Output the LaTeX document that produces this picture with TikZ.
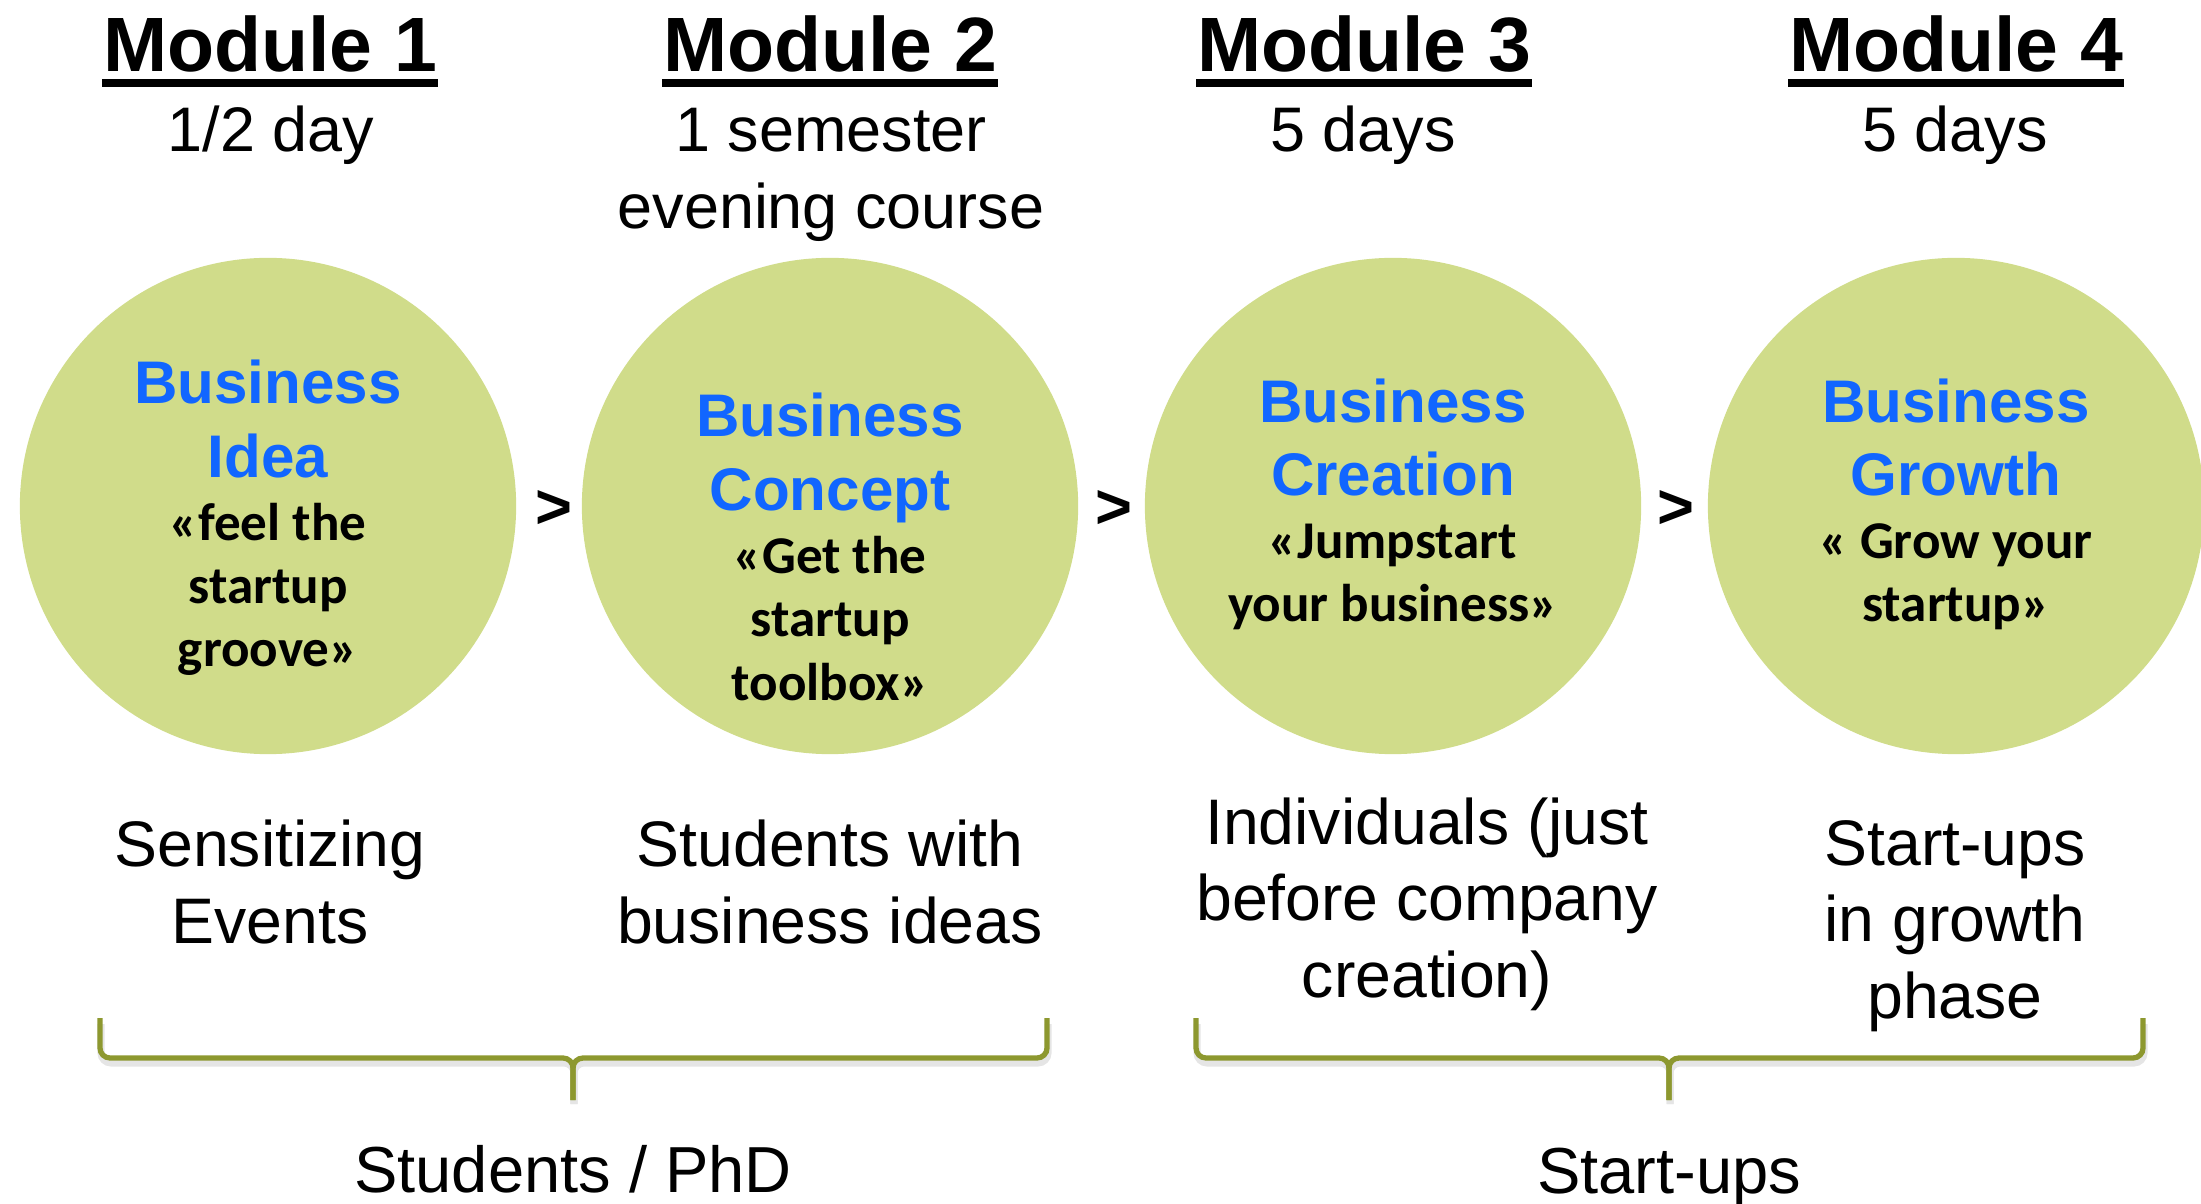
\documentclass[tikz,border=0pt]{standalone}
\usepackage{fontspec}
\setmainfont{Liberation Sans}
\newfontfamily\calibrifont{Carlito}
\definecolor{stagegreen}{RGB}{208,220,138}
\definecolor{stageblue}{RGB}{17,102,255}
\definecolor{braceolive}{RGB}{141,152,47}
\newcommand{\stagename}[1]{{\rmfamily\bfseries\color{stageblue}\fontsize{17.1}{20.8}\selectfont #1}}
\tikzset{
  stage/.style={circle, fill=stagegreen, minimum size=4.96cm},
  stagetext/.style={align=center, anchor=base, font=\calibrifont\bfseries\fontsize{15.1}{18}\selectfont},
  modtitle/.style={anchor=base, font=\bfseries\fontsize{21.9}{26}\selectfont},
  modtime/.style={anchor=base, align=center, font=\fontsize{17.9}{21.9}\selectfont},
  target/.style={anchor=base, align=center, font=\fontsize{18.3}{21.7}\selectfont},
  grouplabel/.style={anchor=base, font=\fontsize{18.5}{22}\selectfont},
  nextsign/.style={font=\bfseries\fontsize{18}{20}\selectfont},
  underbar/.style={line width=2.3pt},
  bracket/.style={draw=braceolive, line width=1.5pt, rounded corners=0.1cm},
  bracketshadow/.style={draw=black!10, line width=2pt, rounded corners=0.1cm},
}
\begin{document}
\begin{tikzpicture}[x=0.01cm, y=0.01cm, every node/.style={inner sep=0pt}]
  \useasboundingbox (0,0) rectangle (2201,-1204);

  % Moduli e durata (base = ultima riga)
  \node[modtitle] (mod1) at (270,-72) {Module 1};
  \node[modtitle] (mod2) at (830,-72) {Module 2};
  \node[modtitle] (mod3) at (1364,-72) {Module 3};
  \node[modtitle] (mod4) at (1956,-72) {Module 4};
  \foreach \m in {1,...,4}
    \draw[underbar] ([yshift=-0.11cm]mod\m.base west) -- ([yshift=-0.11cm]mod\m.base east);
  \node[modtime] (time1) at (271,-152) {1/2 day};
  \node[modtime] (time2) at (831,-229) {1 semester\\evening course};
  \node[modtime] (time3) at (1363,-152) {5 days};
  \node[modtime] (time4) at (1955,-152) {5 days};

  % Cerchi
  \node[stage] (idea) at (268,-506) {};
  \node[stage] (concept) at (830,-506) {};
  \node[stage] (creation) at (1393,-506) {};
  \node[stage] (growth) at (1956,-506) {};
  \node[stagetext] (ideatxt) at (268,-667)
    {\stagename{Business}\\[2.8pt]\stagename{Idea}\\«feel the\\startup\\groove»};
  \node[stagetext] (concepttxt) at (830,-700)
    {\stagename{Business}\\[2.8pt]\stagename{Concept}\\«Get the\\startup\\toolbox»};
  \node[stagetext] (creationtxt) at (1393,-622)
    {\stagename{Business}\\[2.8pt]\stagename{Creation}\\«Jumpstart\\your business»};
  \node[stagetext] (growthtxt) at (1956,-622)
    {\stagename{Business}\\[2.8pt]\stagename{Growth}\\« Grow your\\startup»};
  \foreach \x/\n in {554/a, 1114/b, 1676/c}
    \node[nextsign] (next\n) at (\x,-510) {>};

  % Destinatari
  \node[target] (target1) at (270,-943) {Sensitizing\\Events};
  \node[target] (target2) at (830,-943) {Students with\\business ideas};
  \node[target] (target3) at (1427,-997) {Individuals (just\\before company\\creation)};
  \node[target] (target4) at (1955,-1018) {Start-ups\\in growth\\phase};

  % Parentesi
  \draw[bracketshadow] (101,-1024) -- (101,-1063) -- (574,-1063) -- (574,-1104);
  \draw[bracketshadow] (1048,-1024) -- (1048,-1063) -- (574,-1063) -- (574,-1104);
  \draw[bracketshadow] (1197,-1024) -- (1197,-1063) -- (1670,-1063) -- (1670,-1104);
  \draw[bracketshadow] (2144,-1024) -- (2144,-1063) -- (1670,-1063) -- (1670,-1104);
  \draw[bracket] (100,-1018) -- (100,-1058) -- (573,-1058) -- (573,-1100);
  \draw[bracket] (1047,-1018) -- (1047,-1058) -- (573,-1058) -- (573,-1100);
  \draw[bracket] (1196,-1018) -- (1196,-1058) -- (1669,-1058) -- (1669,-1100);
  \draw[bracket] (2143,-1018) -- (2143,-1058) -- (1669,-1058) -- (1669,-1100);
  \node[grouplabel] (students) at (573,-1192) {Students / PhD};
  \node[grouplabel] (startups) at (1669,-1193) {Start-ups};
\end{tikzpicture}
\end{document}
